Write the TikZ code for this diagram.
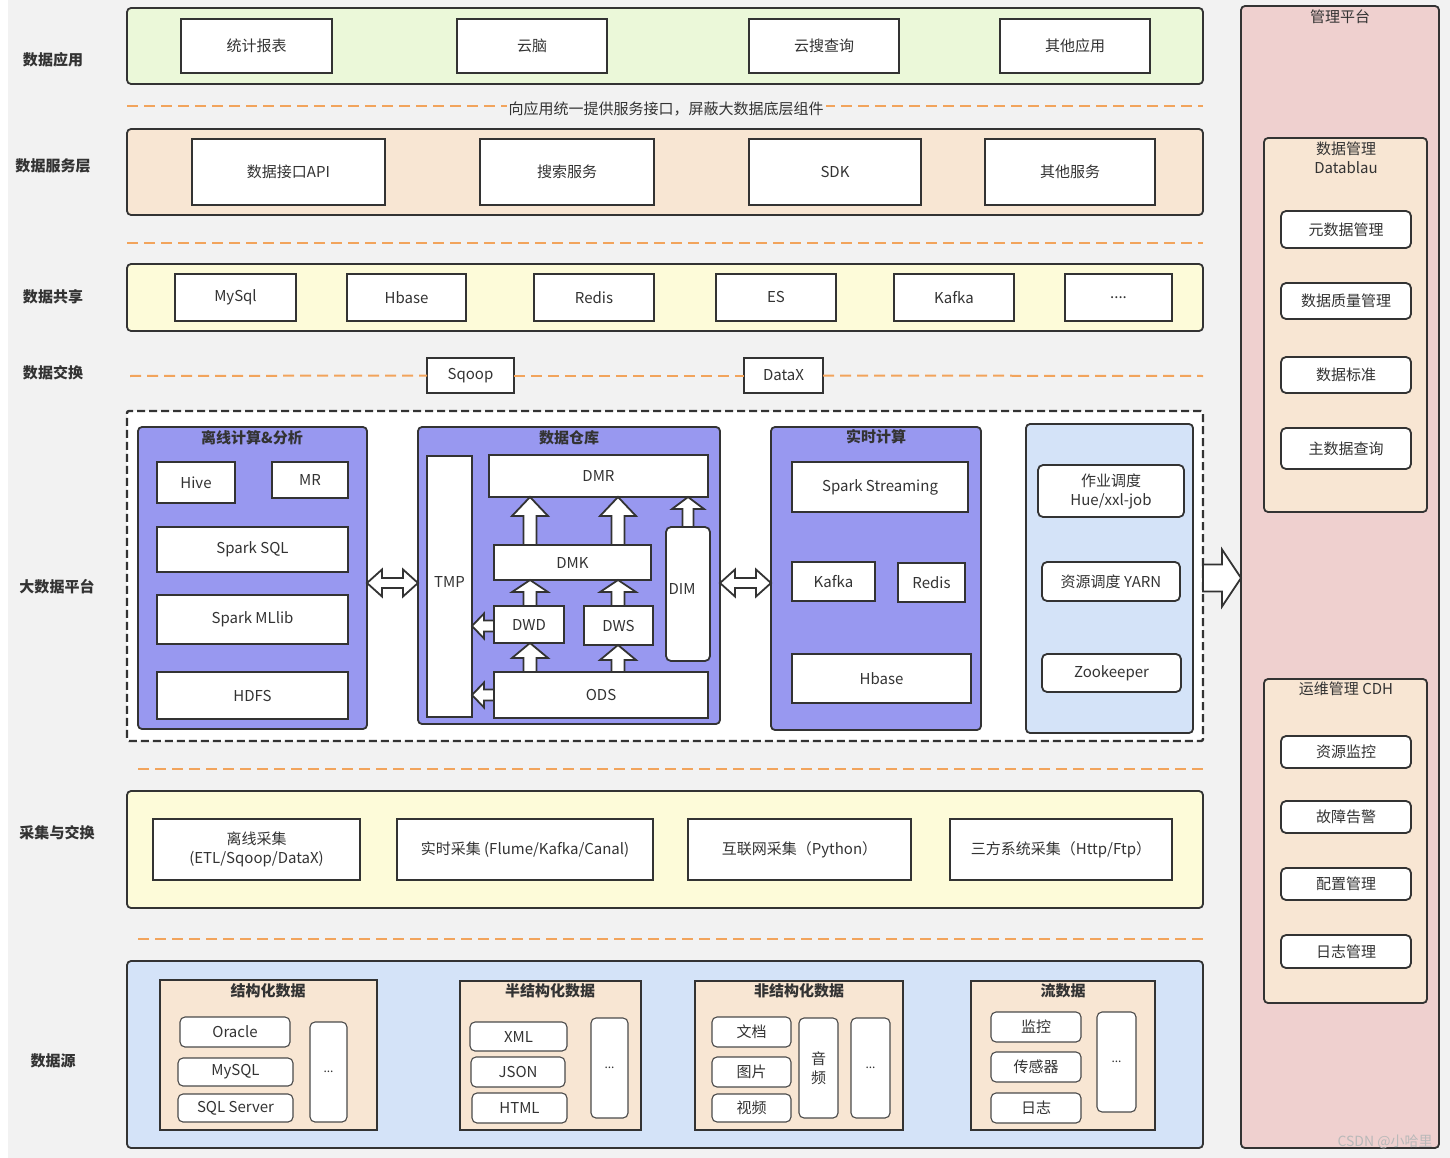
\documentclass[tikz,border=0pt]{standalone}
\usepackage{fontspec}
\setmainfont{Noto Sans CJK SC}
\usetikzlibrary{calc}
\definecolor{bg}{HTML}{F2F2F2}
\definecolor{ln}{HTML}{333333}
\definecolor{ln2}{HTML}{4A4A4A}
\definecolor{tx}{HTML}{333333}
\definecolor{lgreen}{HTML}{EBF8D9}
\definecolor{peach}{HTML}{F8E6D3}
\definecolor{lyel}{HTML}{FDFBD9}
\definecolor{purp}{HTML}{9898F0}
\definecolor{lblue}{HTML}{D4E3F8}
\definecolor{pinkc}{HTML}{EFD0CF}
\definecolor{orng}{HTML}{F2A45C}
\newcommand{\fs}{\fontsize{15}{19}\selectfont}
\newcommand{\fss}{\fontsize{12}{14}\selectfont}
\newcommand{\bx}[7][]{\node[#1, minimum width={(#5-#3)*1pt}, minimum height={(#6-#4)*1pt}] (#2) at ({(#3+#5)/2},{(#4+#6)/2}) {#7};}
% vertical up hollow arrow: x, source (bottom), target (top), head length, head half width, shaft half width
\newcommand{\vArr}[6]{\draw[hollow] let \p1=(#3), \p2=(#2) in
 (#1pt,\y1) -- (#1pt+#5pt,\y1-#4pt) -- (#1pt+#6pt,\y1-#4pt) -- (#1pt+#6pt,\y2) -- (#1pt-#6pt,\y2) -- (#1pt-#6pt,\y1-#4pt) -- (#1pt-#5pt,\y1-#4pt) -- cycle;}
% left hollow arrow: y, source (right), target (left), hl, hh, sh
\newcommand{\hArrL}[6]{\draw[hollow] let \p1=(#3), \p2=(#2) in
 (\x1,-#1pt) -- (\x1+#4pt,-#1pt+#5pt) -- (\x1+#4pt,-#1pt+#6pt) -- (\x2,-#1pt+#6pt) -- (\x2,-#1pt-#6pt) -- (\x1+#4pt,-#1pt-#6pt) -- (\x1+#4pt,-#1pt-#5pt) -- cycle;}
% double hollow arrow: y, left node, right node, hl, hh, sh
\newcommand{\dArr}[6]{\draw[hollow] let \p1=(#2), \p2=(#3) in
 (\x1,-#1pt) -- (\x1+#4pt,-#1pt+#5pt) -- (\x1+#4pt,-#1pt+#6pt) -- (\x2-#4pt,-#1pt+#6pt) -- (\x2-#4pt,-#1pt+#5pt) -- (\x2,-#1pt) -- (\x2-#4pt,-#1pt-#5pt) -- (\x2-#4pt,-#1pt-#6pt) -- (\x1+#4pt,-#1pt-#6pt) -- (\x1+#4pt,-#1pt-#5pt) -- cycle;}
% right hollow arrow: y, source, target, hl, hh, sh
\newcommand{\rArr}[6]{\draw[hollow] let \p1=(#2), \p2=(#3) in
 (\x1,-#1pt+#6pt) -- (\x2-#4pt,-#1pt+#6pt) -- (\x2-#4pt,-#1pt+#5pt) -- (\x2,-#1pt) -- (\x2-#4pt,-#1pt-#5pt) -- (\x2-#4pt,-#1pt-#6pt) -- (\x1,-#1pt-#6pt) -- cycle;}
\tikzset{
 base/.style={draw=ln, line width=1.8pt, inner sep=0pt, outer sep=0pt, font=\fs, text=tx, align=center},
 layer/.style={base, rounded corners=4pt},
 wbox/.style={base, fill=white},
 rbox/.style={base, fill=white, rounded corners=5pt},
 sbox/.style={base, draw=ln2, line width=1.1pt, fill=white, rounded corners=5pt},
 grp/.style={base, fill=peach, line width=2.2pt},
 side/.style={font=\fs\bfseries, text=tx, inner sep=0pt},
 ttl/.style={font=\fs\bfseries, text=tx, inner sep=0pt},
 ttlr/.style={font=\fs, text=tx, inner sep=0pt, align=center},
 odash/.style={draw=orng, line width=2pt, dash pattern=on 11pt off 6pt},
 plat/.style={draw=ln, line width=2.4pt, dash pattern=on 8pt off 4pt, fill=white, inner sep=0pt, outer sep=0pt, rounded corners=2pt},
 hollow/.style={draw=ln, line width=1.8pt, fill=white, line join=miter},
}
\begin{document}
\begin{tikzpicture}[x=1pt,y=-1pt]
\useasboundingbox (0,0) rectangle (1450,1158);
\fill[white] (0,0) rectangle (1450,1158);
\fill[bg] (8,0) rectangle (1450,1158);

% left labels
\node[side] (l1) at (53,60) {数据应用};
\node[side] (l2) at (53,166) {数据服务层};
\node[side] (l3) at (53,297) {数据共享};
\node[side] (l4) at (53,373) {数据交换};
\node[side] (l5) at (57,587) {大数据平台};
\node[side] (l6) at (57,833) {采集与交换};
\node[side] (l7) at (53,1061) {数据源};

% data application
\bx[layer, fill=lgreen]{app}{127}{8}{1203}{84}{}
\bx[wbox]{a1}{181}{19}{332}{73}{统计报表}
\bx[wbox]{a2}{457}{19}{607}{73}{云脑}
\bx[wbox]{a3}{749}{19}{899}{73}{云搜查询}
\bx[wbox]{a4}{1000}{19}{1150}{73}{其他应用}

% dashed line with label
\coordinate (d1a) at (127,106);
\coordinate (d1b) at (1203,106);
\draw[odash] (d1a) -- (d1b);
\node[fill=bg, font=\fs, text=tx, inner sep=2pt] (d1t) at (666,109) {向应用统一提供服务接口，屏蔽大数据底层组件};

% data service
\bx[layer, fill=peach]{svc}{127}{129}{1203}{215}{}
\bx[wbox]{s1}{192}{139}{385}{205}{数据接口API}
\bx[wbox]{s2}{480}{139}{654}{205}{搜索服务}
\bx[wbox]{s3}{749}{139}{921}{205}{SDK}
\bx[wbox]{s4}{985}{139}{1155}{205}{其他服务}

\coordinate (d2a) at (127,243);
\coordinate (d2b) at (1203,243);
\draw[odash] (d2a) -- (d2b);

% data share
\bx[layer, fill=lyel]{share}{127}{264}{1203}{331}{}
\bx[wbox]{h1}{175}{274}{296}{321}{MySql}
\bx[wbox]{h2}{347}{274}{466}{321}{Hbase}
\bx[wbox]{h3}{534}{274}{654}{321}{Redis}
\bx[wbox]{h4}{716}{274}{836}{321}{ES}
\bx[wbox]{h5}{894}{274}{1014}{321}{Kafka}
\bx[wbox]{h6}{1065}{274}{1172}{321}{....}

% data exchange
\bx[wbox, line width=1.6pt]{sqoop}{427}{358}{514}{393}{Sqoop}
\bx[wbox, line width=1.6pt]{datax}{744}{358}{823}{393}{DataX}
\coordinate (x0) at (130,376);
\coordinate (x1) at (1203,376);
\draw[odash] (x0) -- (sqoop.west);
\draw[odash] (sqoop.east) -- (datax.west);
\draw[odash] (datax.east) -- (x1);

% big data platform
\bx[plat]{plat}{127}{411}{1203}{741}{}

% offline
\bx[layer, fill=purp]{off}{138}{427}{367}{729}{}
\node[ttl] (offT) at (252,438) {离线计算\&分析};
\bx[wbox]{hive}{157}{462}{235}{503}{Hive}
\bx[wbox]{mr}{272}{462}{348}{498}{MR}
\bx[wbox]{ssql}{157}{527}{348}{572}{Spark SQL}
\bx[wbox]{mllib}{157}{595}{348}{644}{Spark MLlib}
\bx[wbox]{hdfs}{157}{672}{348}{719}{HDFS}

% warehouse
\bx[layer, fill=purp]{dw}{418}{427}{720}{724}{}
\node[ttl] (dwT) at (569,438) {数据仓库};
\bx[wbox]{tmp}{427}{456}{472}{717}{\raisebox{9pt}{TMP}}
\bx[wbox]{dmr}{489}{455}{708}{497}{DMR}
\bx[wbox]{dmk}{494}{545}{651}{580}{DMK}
\bx[wbox]{dwd}{494}{606}{564}{643}{DWD}
\bx[wbox]{dws}{584}{606}{653}{645}{DWS}
\bx[rbox]{dim}{666}{527}{710}{661}{\hspace*{-12pt}\raisebox{10pt}{DIM}}
\bx[wbox]{ods}{494}{672}{708}{718}{ODS}
\vArr{530}{dmk.north}{dmr.south}{19}{18}{6.5}
\vArr{618}{dmk.north}{dmr.south}{19}{18}{6.5}
\vArr{688}{dim.north}{dmr.south}{12}{16}{5.5}
\vArr{530}{dwd.north}{dmk.south}{12}{18}{6.5}
\vArr{618}{dws.north}{dmk.south}{12}{18}{6.5}
\vArr{530}{ods.north}{dwd.south}{15}{18}{6.5}
\vArr{618}{ods.north}{dws.south}{15}{18}{6.5}
\hArrL{626}{dwd.west}{tmp.east}{12}{12.5}{5.5}
\hArrL{695}{ods.west}{tmp.east}{12}{12.5}{5.5}

% realtime
\bx[layer, fill=purp]{rt}{771}{427}{981}{730}{}
\node[ttl] (rtT) at (876,437) {实时计算};
\bx[wbox]{sstr}{792}{462}{968}{512}{Spark Streaming}
\bx[wbox]{rkafka}{792}{562}{875}{601}{Kafka}
\bx[wbox]{rredis}{898}{563}{965}{602}{Redis}
\bx[wbox]{rhbase}{792}{654}{971}{703}{Hbase}

% scheduling
\bx[layer, fill=lblue]{sch}{1026}{424}{1193}{733}{}
\bx[rbox]{job}{1038}{465}{1184}{517}{作业调度\\Hue/xxl-job}
\bx[rbox]{yarn}{1042}{562}{1180}{601}{资源调度 YARN}
\bx[rbox]{zk}{1042}{654}{1181}{692}{Zookeeper}

\dArr{583}{off.east}{dw.west}{15}{13.5}{5}
\dArr{583}{dw.east}{rt.west}{15}{13.5}{5}

% management platform
\bx[layer, fill=pinkc]{mg}{1241}{6}{1439}{1148}{}
\node[ttlr] (mgT) at (1340,17) {管理平台};
\bx[layer, fill=peach]{dm}{1264}{138}{1427}{512}{}
\node[ttlr] (dmT) at (1346,158) {数据管理\\Datablau};
\bx[rbox]{m1}{1281}{211}{1411}{248}{元数据管理}
\bx[rbox]{m2}{1281}{283}{1411}{319}{数据质量管理}
\bx[rbox]{m3}{1281}{357}{1411}{393}{数据标准}
\bx[rbox]{m4}{1281}{428}{1411}{469}{主数据查询}
\bx[layer, fill=peach]{ops}{1264}{679}{1427}{1003}{}
\node[ttlr] (opsT) at (1346,689) {运维管理 CDH};
\bx[rbox]{o1}{1281}{736}{1411}{768}{资源监控}
\bx[rbox]{o2}{1281}{801}{1411}{833}{故障告警}
\bx[rbox]{o3}{1281}{868}{1411}{900}{配置管理}
\bx[rbox]{o4}{1281}{935}{1411}{968}{日志管理}

\rArr{578}{plat.east}{mg.west}{19}{28.5}{13.5}

% collection
\coordinate (d3a) at (138,769);
\coordinate (d3b) at (1203,769);
\draw[odash] (d3a) -- (d3b);
\bx[layer, fill=lyel]{col}{127}{791}{1203}{908}{}
\bx[wbox]{c1}{153}{819}{360}{880}{离线采集\\(ETL/Sqoop/DataX)}
\bx[wbox]{c2}{397}{819}{653}{880}{实时采集 (Flume/Kafka/Canal)}
\bx[wbox]{c3}{688}{819}{911}{880}{互联网采集（Python）}
\bx[wbox]{c4}{950}{819}{1172}{880}{三方系统采集（Http/Ftp）}
\coordinate (d4a) at (138,939);
\coordinate (d4b) at (1203,939);
\draw[odash] (d4a) -- (d4b);

% data sources
\bx[layer, fill=lblue]{src}{127}{961}{1203}{1148}{}
\bx[grp]{g1}{160}{980}{377}{1130}{}
\node[ttl] (g1T) at (268,991) {结构化数据};
\bx[sbox]{oracle}{180}{1017}{290}{1047}{Oracle}
\bx[sbox]{mysql2}{178}{1058}{293}{1086}{MySQL}
\bx[sbox]{sqls}{178}{1094}{293}{1122}{SQL Server}
\bx[sbox, font=\fss]{g1d}{310}{1022}{347}{1122}{...}
\bx[grp]{g2}{460}{981}{641}{1130}{}
\node[ttl] (g2T) at (550,991) {半结构化数据};
\bx[sbox]{xml}{470}{1022}{567}{1051}{XML}
\bx[sbox]{json}{471}{1057}{565}{1087}{JSON}
\bx[sbox]{html}{472}{1093}{567}{1123}{HTML}
\bx[sbox, font=\fss]{g2d}{591}{1018}{628}{1118}{...}
\bx[grp]{g3}{695}{981}{903}{1130}{}
\node[ttl] (g3T) at (799,991) {非结构化数据};
\bx[sbox]{doc}{712}{1017}{791}{1047}{文档}
\bx[sbox]{pic}{712}{1057}{791}{1087}{图片}
\bx[sbox]{vid}{712}{1094}{791}{1122}{视频}
\bx[sbox]{aud}{799}{1018}{838}{1118}{音\\频}
\bx[sbox, font=\fss]{g3d}{851}{1018}{890}{1118}{...}
\bx[grp]{g4}{971}{981}{1155}{1130}{}
\node[ttl] (g4T) at (1063,991) {流数据};
\bx[sbox]{mon}{991}{1012}{1081}{1042}{监控}
\bx[sbox]{sen}{991}{1052}{1081}{1082}{传感器}
\bx[sbox]{logd}{991}{1093}{1081}{1123}{日志}
\bx[sbox, font=\fss]{g4d}{1097}{1012}{1136}{1112}{...}

% watermark
\node[font=\fontsize{14}{16}\selectfont, text=gray!55, inner sep=0pt] (wm) at (1385,1142) {CSDN @小哈里};
\end{tikzpicture}
\end{document}
